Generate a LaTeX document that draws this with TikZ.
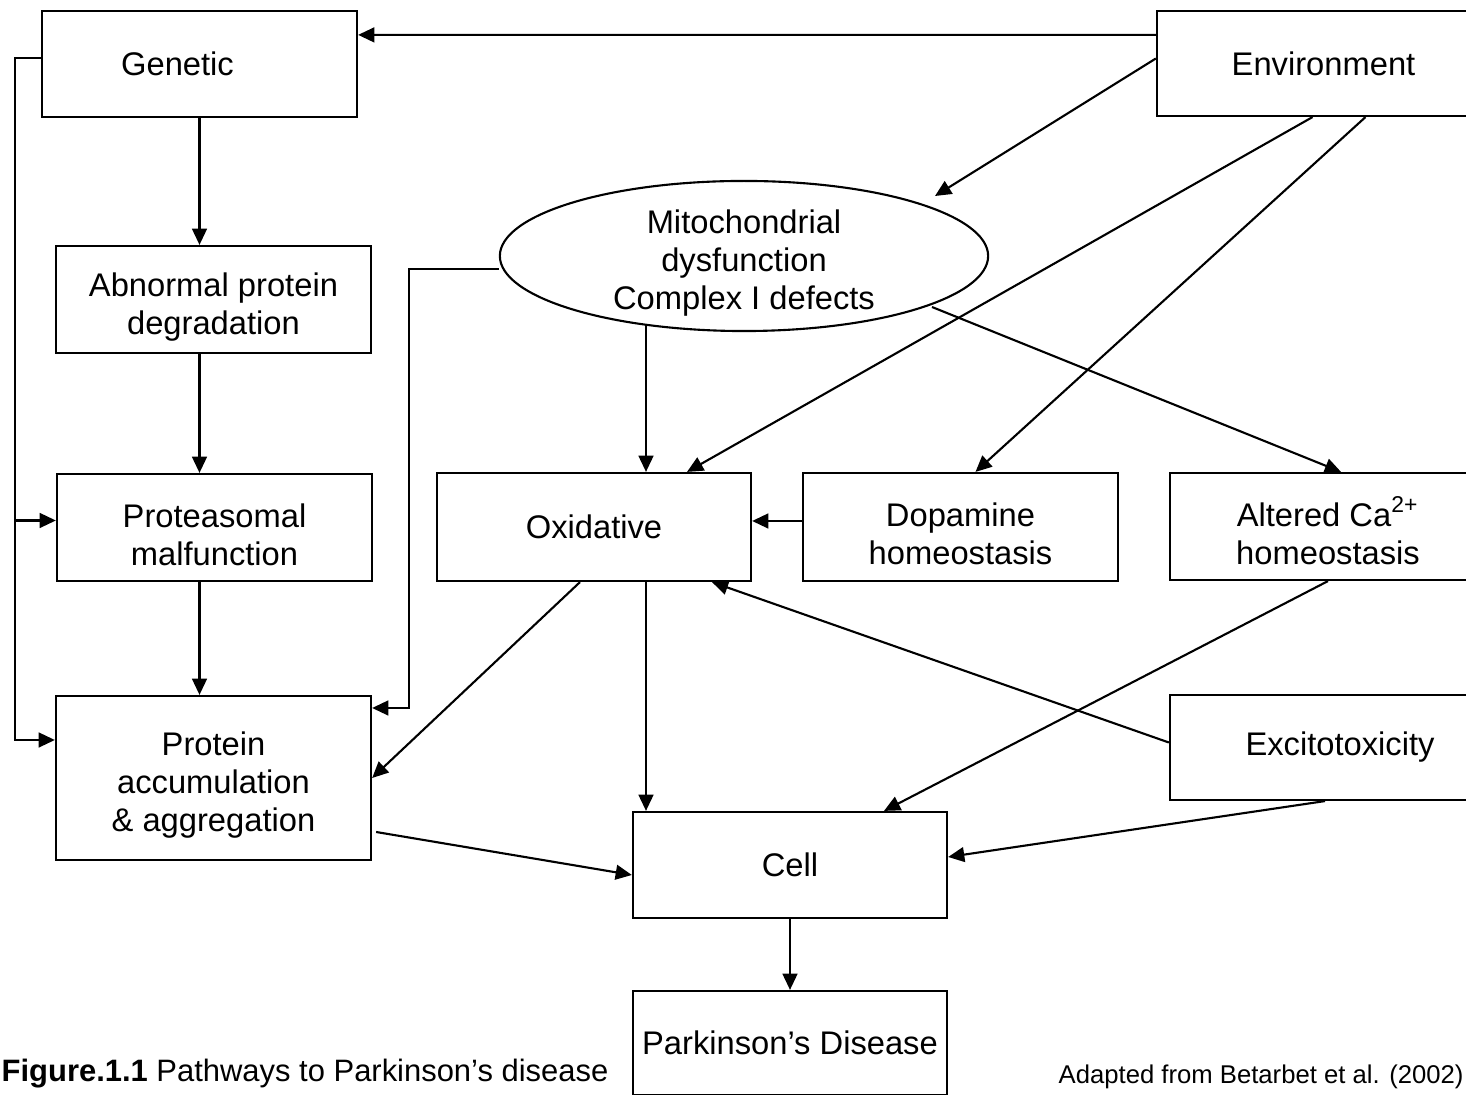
\documentclass[tikz,border=0pt]{standalone}
\usepackage{fontspec}
\setmainfont{Liberation Sans}
\usetikzlibrary{arrows.meta,positioning,calc,shapes.geometric}
\newcommand{\topstrut}{\rule{0pt}{10.8pt}}
\tikzset{
  factbox/.style={draw, line width=0.6pt, minimum width=3.15cm, minimum height=1.07cm, align=center, inner sep=1pt, font=\fontsize{9.3}{10.8}\selectfont},
  mitoell/.style={draw, ellipse, line width=0.6pt, minimum width=4.88cm, minimum height=1.5cm, align=center, inner xsep=0pt, inner ysep=-3pt, font=\fontsize{9.3}{10.8}\selectfont},
  cline/.style={-{Triangle[length=4.6pt,width=4.2pt]}, line width=0.6pt},
}

\begin{document}
\begin{tikzpicture}[x=0.01cm, y=-0.01cm]
  \clip (0,0) rectangle (1466,1095);

  % boxes
  \node[factbox, minimum height=1.06cm] (gen) at (199.5,64) {Genetic\hspace*{0.44cm}};
  \node[factbox, minimum width=3.33cm, minimum height=1.05cm] (env) at (1323.5,63.5) {Environment};
  \node[factbox] (abn) at (213.5,299.5) {\topstrut Abnormal protein\\degradation};
  \node[factbox] (prot) at (214.5,527.5) {\topstrut Proteasomal\\malfunction};
  \node[factbox, minimum height=1.64cm] (acc) at (213.5,778) {\topstrut Protein\\accumulation\\\& aggregation};
  \node[mitoell] (mito) at (744,256) {\topstrut Mitochondrial\\dysfunction\\Complex I defects};
  \node[factbox, minimum width=3.14cm, minimum height=1.08cm] (oxi) at (594,527) {Oxidative};
  \node[factbox, minimum height=1.08cm] (dop) at (960.5,527) {\topstrut Dopamine\\homeostasis};
  \node[factbox, minimum width=3.16cm] (alt) at (1328,526.5) {\topstrut Altered Ca\textsuperscript{2+}\\homeostasis};
  \node[factbox, minimum width=3.4cm, minimum height=1.05cm] (exc) at (1340,747.5) {Excitotoxicity};
  \node[factbox, minimum width=3.14cm, minimum height=1.06cm] (cell) at (790,865) {Cell};
  \node[factbox, minimum width=3.14cm, minimum height=1.04cm] (park) at (790,1043) {Parkinson’s Disease};

  % captions
  \node[anchor=base west, inner sep=0pt, font=\fontsize{8.8}{10.8}\selectfont] (cap) at (1,1082) {\textbf{Figure.1.1} Pathways to Parkinson’s disease};
  \node[anchor=base west, inner sep=0pt, font=\fontsize{7.3}{9}\selectfont] (src) at (1058,1084) {Adapted from Betarbet et al. (2002)};

  % left column
  \draw[cline] ($(env.north west)+(0,25)$) -- ($(gen.north east)+(0,25)$);
  \draw[cline] (gen.south) -- (gen.south |- abn.north);
  \draw[cline] (gen.south |- abn.south) -- (gen.south |- prot.north);
  \draw[cline] (gen.south |- prot.south) -- (gen.south |- acc.north);
  \draw[cline] ($(gen.west)+(0,-6)$) -- ++(-26,0) |- ($(acc.west)+(0,-38)$);
  \draw[cline] ($(prot.west)+(-41,-7)$) -- ($(prot.west)+(0,-7)$);
  \draw[cline] ($(mito.west)+(0,13)$) -- ++(-90,0) |- ($(acc.east)+(0,-70)$);

  % environment
  \draw[cline] ($(env.west)+(0,-5)$) -- ($(mito.center)+(191,-60)$);
  \draw[cline] ($(env.south)+(-11,0)$) -- ($(oxi.north)+(93,0)$);
  \draw[cline] ($(env.south)+(42,0)$) -- ($(dop.north)+(15,0)$);

  % middle
  \draw[cline] ($(mito.south)+(-98,-8)$) -- ($(oxi.north)+(52,0)$);
  \draw[cline] ($(mito.center)+(188,51)$) -- ($(alt.north)+(13,0)$);
  \draw[cline] ($(dop.west)+(0,-6)$) -- (oxi.east |- {$(dop.west)+(0,-6)$});
  \draw[cline] ($(oxi.south)+(-14,0)$) -- (acc.east);
  \draw[cline] ($(oxi.south)+(52,0)$) -- ($(cell.north)+(-144,0)$);
  \draw[cline] ($(exc.west)+(0,-5)$) -- ($(oxi.south)+(118,0)$);
  \draw[cline] (alt.south) -- ($(cell.north)+(94,0)$);
  \draw[cline] ($(exc.south)+(-15,0)$) -- ($(cell.east)+(0,-8)$);
  \draw[cline] ($(acc.east)+(4,54)$) -- ($(cell.west)+(0,10)$);
  \draw[cline] (cell.south) -- (park.north);
\end{tikzpicture}
\end{document}
